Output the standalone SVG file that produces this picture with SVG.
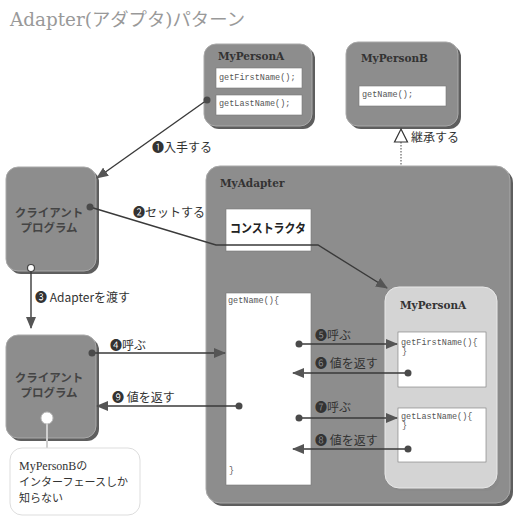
<svg xmlns="http://www.w3.org/2000/svg" width="526" height="530" viewBox="0 0 526 530">
<defs>
<style>
.box{fill:#8d8d8d;stroke:#a9a9a9;stroke-width:1}
.shadow{fill:#5e5e5e}
.lbox{fill:#d4d4d4;stroke:#e8e8e8;stroke-width:1}
.lshadow{fill:#8a8a8a}
.wbox{fill:#ffffff;stroke:#777;stroke-width:0.6}
.title{font-family:"DejaVu Serif","Liberation Serif",serif;font-weight:bold;font-size:10.5px;fill:#333}
.code{font-family:"Liberation Mono","DejaVu Sans Mono",monospace;font-size:8.5px;fill:#555}
.jp{font-family:"Noto Sans CJK JP","DejaVu Sans",sans-serif;font-size:12px;fill:#333}
.note{font-family:"Noto Sans CJK JP","DejaVu Sans",sans-serif;font-size:11px;fill:#333}
.cl{font-family:"Noto Sans CJK JP",sans-serif;font-size:11.5px;font-weight:bold;fill:#444;text-anchor:middle}
.conn{fill:none;stroke:#3a3a3a;stroke-width:1.4}
.dot{fill:#4a4a4a}
</style>
<marker id="arr" viewBox="0 0 12 10" refX="11" refY="5" markerWidth="12" markerHeight="10" markerUnits="userSpaceOnUse" orient="auto">
<path d="M0,0 L12,5 L0,10 z" fill="#555"/>
</marker>
</defs>
<rect width="526" height="530" fill="#ffffff"/>
<text x="10" y="26" font-family="DejaVu Serif,'Noto Sans CJK JP',serif" font-size="18" fill="#999" textLength="235" lengthAdjust="spacingAndGlyphs">Adapter(アダプタ)パターン</text>

<g id="myPersonA">
<rect x="207" y="47" width="108" height="82" rx="12" class="shadow"/>
<rect x="204" y="44" width="108" height="82" rx="12" class="box"/>
<text x="218" y="60" class="title">MyPersonA</text>
<rect x="216" y="68" width="86" height="20" class="wbox"/>
<text x="219" y="80" class="code">getFirstName();</text>
<rect x="216" y="95" width="86" height="20" class="wbox"/>
<text x="219" y="106" class="code">getLastName();</text>
</g>

<g id="myPersonB">
<rect x="349" y="45" width="112" height="84" rx="12" class="shadow"/>
<rect x="346" y="42" width="112" height="84" rx="12" class="box"/>
<text x="361" y="62" class="title">MyPersonB</text>
<rect x="359" y="86" width="87" height="20" class="wbox"/>
<text x="362" y="97" class="code">getName();</text>
</g>

<g id="client1">
<rect x="9" y="170" width="90" height="104" rx="12" class="shadow"/>
<rect x="6" y="167" width="90" height="104" rx="12" class="box"/>
<text x="49" y="217" class="cl">クライアント</text>
<text x="49" y="232" class="cl">プログラム</text>
</g>

<g id="client2">
<rect x="9" y="338" width="90" height="103" rx="12" class="shadow"/>
<rect x="6" y="335" width="90" height="103" rx="12" class="box"/>
<text x="49" y="382" class="cl">クライアント</text>
<text x="49" y="397" class="cl">プログラム</text>
</g>

<g id="note">
<line x1="47" y1="418" x2="47" y2="448" stroke="#cfcfcf" stroke-width="2"/>
<circle cx="47" cy="418" r="6" fill="#fff" stroke="#bbb" stroke-width="1"/>
<rect x="10" y="448" width="130" height="67" rx="12" fill="#fff" stroke="#ddd" stroke-width="1"/>
<text x="19" y="470" font-family="'Liberation Serif','Noto Sans CJK JP',serif" font-size="12" fill="#333">MyPersonB<tspan font-family="'Noto Sans CJK JP',sans-serif" font-size="11">の</tspan></text>
<text x="19" y="486" class="note" textLength="109" lengthAdjust="spacingAndGlyphs">インターフェースしか</text>
<text x="19" y="502" class="note">知らない</text>
</g>

<g id="myAdapter">
<rect x="209" y="169" width="304" height="337" rx="14" class="shadow"/>
<rect x="206" y="166" width="304" height="337" rx="14" class="box"/>
<text x="220" y="187" class="title">MyAdapter</text>
</g>

<g id="constructor">
<rect x="226" y="209" width="85" height="42" class="wbox" stroke="none"/>
<text x="230" y="233" font-family="'Noto Sans CJK JP',sans-serif" font-weight="bold" font-size="12.5" fill="#222" textLength="76" lengthAdjust="spacingAndGlyphs">コンストラクタ</text>
</g>

<g id="getName">
<rect x="226" y="293" width="85" height="192" class="wbox" stroke="none"/>
<text x="228" y="303" class="code">getName(){</text>
<text x="229" y="473" class="code">}</text>
</g>

<g id="innerPersonA">
<rect x="388" y="290" width="112" height="201" rx="14" class="lshadow"/>
<rect x="385" y="287" width="112" height="201" rx="14" class="lbox"/>
<text x="400" y="309" class="title">MyPersonA</text>
<rect x="398" y="332" width="88" height="55" class="wbox"/>
<text x="401" y="345" class="code">getFirstName(){</text>
<text x="402" y="354" class="code">}</text>
<rect x="398" y="408" width="88" height="54" class="wbox"/>
<text x="401" y="419" class="code">getLastName(){</text>
<text x="402" y="428" class="code">}</text>
</g>

<g id="connectors">
<line x1="207" y1="100" x2="97" y2="178" class="conn" marker-end="url(#arr)"/>
<circle cx="207" cy="100" r="3.5" class="dot"/>
<text x="152" y="152" class="jp">❶入手する</text>

<path d="M90,207 L216,245 L318,245 L387,288" class="conn" marker-end="url(#arr)"/>
<circle cx="90" cy="207" r="3.5" class="dot"/>
<text x="133" y="217" class="jp">❷セットする</text>

<line x1="31" y1="268" x2="31" y2="328" class="conn" marker-end="url(#arr)"/>
<circle cx="31" cy="268" r="3.5" fill="#fff" stroke="#444" stroke-width="1.2"/>
<text x="35" y="302" class="jp">❸ Adapterを渡す</text>

<line x1="92" y1="353" x2="225" y2="353" class="conn" marker-end="url(#arr)"/>
<circle cx="92" cy="353" r="3.5" class="dot"/>
<text x="110" y="350" class="jp">❹呼ぶ</text>

<line x1="239" y1="406" x2="97" y2="406" class="conn" marker-end="url(#arr)"/>
<circle cx="239" cy="406" r="3.5" class="dot"/>
<text x="112" y="402" class="jp">❾ 値を返す</text>

<line x1="299" y1="344" x2="397" y2="344" class="conn" marker-end="url(#arr)"/>
<circle cx="299" cy="344" r="3.5" class="dot"/>
<text x="315" y="340" class="jp">❺呼ぶ</text>

<line x1="408" y1="373" x2="293" y2="373" class="conn" marker-end="url(#arr)"/>
<circle cx="408" cy="373" r="3.5" class="dot"/>
<text x="315" y="368" class="jp">❻ 値を返す</text>

<line x1="299" y1="418" x2="397" y2="418" class="conn" marker-end="url(#arr)"/>
<circle cx="299" cy="418" r="3.5" class="dot"/>
<text x="315" y="412" class="jp">❼呼ぶ</text>

<line x1="408" y1="449" x2="293" y2="449" class="conn" marker-end="url(#arr)"/>
<circle cx="408" cy="449" r="3.5" class="dot"/>
<text x="315" y="445" class="jp">❽ 値を返す</text>

<line x1="401" y1="142" x2="401" y2="166" stroke="#444" stroke-width="1" stroke-dasharray="1.5,1.5"/>
<path d="M401,129 L407.5,142 L394.5,142 z" fill="#fff" stroke="#333" stroke-width="1.2"/>
<text x="411" y="142" class="jp">継承する</text>
</g>
</svg>
